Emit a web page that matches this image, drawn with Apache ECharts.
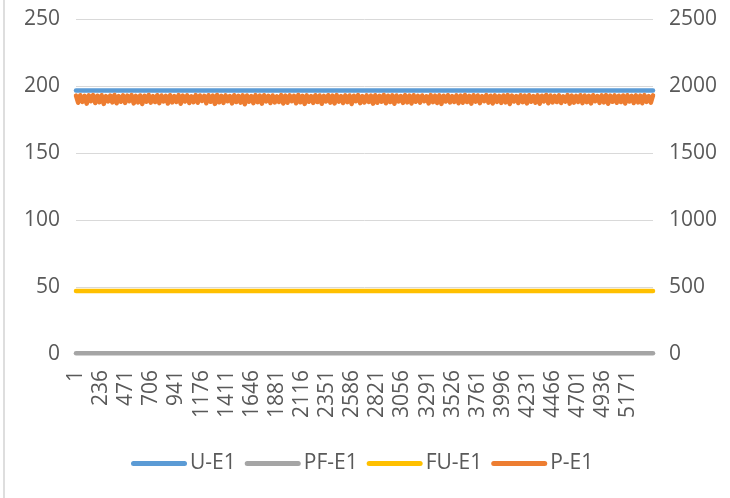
<!DOCTYPE html>
<html>
<head>
<meta charset="utf-8">
<style>
html,body{margin:0;padding:0;background:#fff;}
#chart{width:730px;height:498px;}
</style>
<script src="https://cdn.jsdelivr.net/npm/echarts@6/dist/echarts.min.js"></script>
</head>
<body>
<div id="chart"></div>
<script>
// Number of samples on the category axis (labels 1 .. N)
const sampleCount = 5401;
const categories = Array.from({length: sampleCount}, (_, i) => String(i + 1));

const seriesNames = ['U-E1', 'PF-E1', 'FU-E1', 'P-E1'];

// Flat series: [sample index, value]
const uE1 = [[0, 197], [5400, 197]];
const pfE1 = [[0, 0.5], [5400, 0.5]];
const fuE1 = [[0, 47], [5400, 47]];

// P-E1 (right axis), read every 20 samples
const pStep = 20;
const pE1Values = [
1931,1878,1934,1884,1929,1871,1933,1889,1935,1876,1930,1882,1934,1869,1927,1887,1932,1880,1936,1874,
1928,1885,1933,1877,1931,1890,1935,1873,1929,1881,1932,1868,1930,1886,1936,1879,1927,1883,1934,1875,
1932,1888,1929,1872,1934,1880,1928,1884,1935,1870,1931,1887,1933,1876,1926,1882,1935,1878,1932,1891,
1929,1874,1934,1885,1931,1869,1936,1881,1929,1877,1933,1889,1927,1873,1934,1883,1930,1879,1933,1867,
1932,1886,1928,1875,1935,1882,1931,1871,1934,1888,1929,1876,1932,1880,1926,1884,1935,1872,1931,1878,
1933,1890,1929,1874,1936,1881,1930,1869,1933,1885,1928,1877,1934,1883,1932,1870,1929,1887,1934,1879,
1931,1873,1935,1886,1927,1876,1933,1882,1932,1868,1930,1889,1935,1875,1928,1880,1933,1884,1931,1871,
1934,1878,1929,1886,1936,1874,1930,1883,1933,1870,1932,1888,1928,1877,1935,1881,1931,1872,1934,1885,
1929,1879,1932,1890,1926,1873,1935,1882,1931,1876,1933,1869,1930,1887,1934,1880,1928,1884,1933,1874,
1931,1878,1936,1883,1929,1871,1934,1886,1932,1875,1927,1889,1935,1879,1930,1872,1933,1884,1929,1877,
1932,1881,1935,1868,1931,1887,1928,1876,1934,1882,1931,1873,1934,1885,1928,1878,1933,1870,1930,1888,
1936,1874,1932,1880,1929,1883,1933,1876,1926,1886,1935,1871,1931,1879,1929,1884,1934,1875,1932,1882,
1930,1873,1934,1889,1928,1877,1933,1881,1935,1870,1931,1885,1933,1878,1930,1883,1932,1872,1934,1887,
1929,1876,1933,1880,1931,1874,1935,1884,1927,1879,1933
];
const pE1 = pE1Values.map((v, i) => [i * pStep, v]);

const colors = ['#5b9bd5', '#a5a5a5', '#ffc000', '#ed7d31'];
const font = '"Open Sans", "Liberation Sans", sans-serif';
const textColor = '#595959';
const fs = 21;
const lw = 4.5;
const legendIcon = 'path://M2.5,0 H53.5 A2.5,2.5 0 0 1 53.5,5 H2.5 A2.5,2.5 0 0 1 2.5,0 Z';

const chart = echarts.init(document.getElementById('chart'), null, {renderer: 'canvas'});

function lineSeries(name, data, color, yAxisIndex) {
  return {
    name: name,
    type: 'line',
    data: data,
    yAxisIndex: yAxisIndex,
    symbol: 'none',
    showSymbol: false,
    animation: false,
    silent: true,
    lineStyle: {color: color, width: lw, cap: 'round', join: 'round'},
    itemStyle: {color: color}
  };
}

chart.setOption({
  animation: false,
  color: colors,
  textStyle: {fontFamily: font},
  graphic: [{
    type: 'rect',
    shape: {x: 3, y: 0, width: 2, height: 498},
    style: {fill: '#dedede'},
    silent: true
  }],
  grid: {left: 76, right: 77, top: 19.5, bottom: 144, containLabel: false},
  legend: {
    data: seriesNames.map(n => ({name: n, icon: legendIcon})),
    bottom: 19,
    left: 126,
    itemWidth: 56,
    itemHeight: 5,
    itemGap: 9,
    textStyle: {color: textColor, fontSize: fs, fontFamily: font, padding: [0, 0, 0, -2]}
  },
  xAxis: {
    type: 'category',
    data: categories,
    boundaryGap: false,
    axisLine: {show: true, lineStyle: {color: '#d9d9d9', width: 1}},
    axisTick: {show: false},
    axisLabel: {
      interval: 234,
      rotate: 90,
      margin: 16,
      color: textColor,
      fontSize: fs,
      fontFamily: font
    },
    splitLine: {show: false}
  },
  yAxis: [{
    type: 'value',
    min: 0, max: 250, interval: 50,
    axisLine: {show: false},
    axisTick: {show: false},
    axisLabel: {color: textColor, fontSize: fs, fontFamily: font, margin: 16},
    splitLine: {show: true, lineStyle: {color: '#d9d9d9', width: 1}}
  }, {
    type: 'value',
    min: 0, max: 2500, interval: 500,
    position: 'right',
    axisLine: {show: false},
    axisTick: {show: false},
    axisLabel: {color: textColor, fontSize: fs, fontFamily: font, margin: 16,
      formatter: v => String(v)},
    splitLine: {show: false}
  }],
  series: [
    lineSeries(seriesNames[0], uE1, colors[0], 0),
    lineSeries(seriesNames[1], pfE1, colors[1], 0),
    lineSeries(seriesNames[2], fuE1, colors[2], 0),
    lineSeries(seriesNames[3], pE1, colors[3], 1)
  ]
});
</script>
</body>
</html>
